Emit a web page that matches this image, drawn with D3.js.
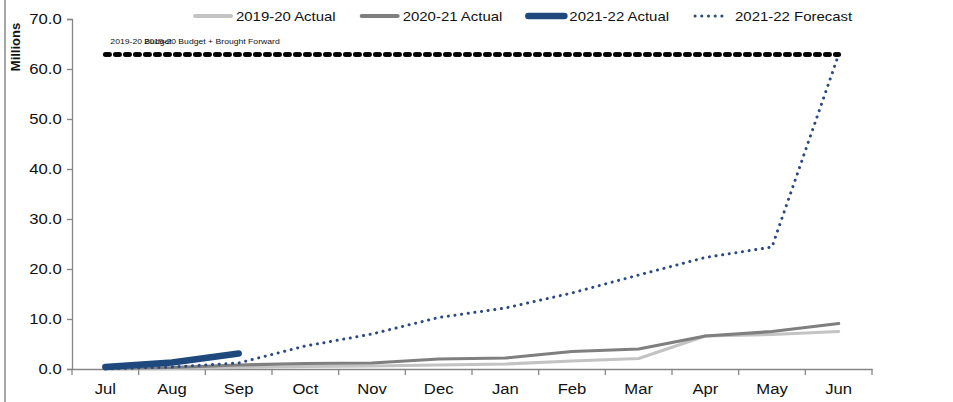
<!DOCTYPE html>
<html lang="en">
<head>
	<meta charset="utf-8">
	<title>Cumulative spend</title>
	<script src="https://d3js.org/d3.v7.min.js"></script>
	<style>
		body { margin: 0; background: #fff; }
		svg { display: block; font-family: "Liberation Sans", Arial, sans-serif; }
	</style>
</head>
<body>
	<div id="my_dataviz"></div>
	<script>
		// values in millions
		const months = ["Jul", "Aug", "Sep", "Oct", "Nov", "Dec", "Jan", "Feb", "Mar", "Apr", "May", "Jun"];
		const actual1920 = [0.0, 0.1, 0.3, 0.5, 0.6, 0.8, 1.0, 1.6, 2.1, 6.6, 6.9, 7.5];
		const actual2021 = [0.1, 0.3, 0.8, 1.1, 1.2, 2.0, 2.2, 3.5, 4.0, 6.6, 7.5, 9.1];
		const actual2122 = [0.4, 1.3, 3.1];
		const forecast2122 = [0.0, 0.4, 1.2, 4.6, 7.0, 10.3, 12.2, 15.2, 18.8, 22.3, 24.4, 62.9];
		const budget1920 = [62.9, 62.9, 62.9, 62.9, 62.9, 62.9, 62.9, 62.9, 62.9, 62.9, 62.9, 62.9];
		const budgetBF = [62.9, 62.9, 62.9, 62.9, 62.9, 62.9, 62.9, 62.9, 62.9, 62.9, 62.9, 62.9];
		const budgetLabels = ["2019-20 Budget", "2019-20 Budget + Brought Forward"];
		const legendLabels = ["2019-20 Actual", "2020-21 Actual", "2021-22 Actual", "2021-22 Forecast"];
		const yTicks = [0, 10, 20, 30, 40, 50, 60, 70];

		const width = 953, height = 402;
		const margin = { top: 19, right: 81, bottom: 33, left: 72 };
		const sx = 1.15; // the original text is a bit wide

		const svg = d3.select("#my_dataviz").append("svg")
			.attr("width", width).attr("height", height);

		// left edge of the frame
		svg.append("line")
			.attr("x1", 5).attr("x2", 5).attr("y1", 0).attr("y2", height)
			.attr("stroke", "#a6a6a6").attr("stroke-width", 2);

		const x = d3.scaleBand().domain(months).range([margin.left, width - margin.right]);
		const y = d3.scaleLinear().domain([0, 70]).range([height - margin.bottom, margin.top]);
		const cx = m => x(m) + x.bandwidth() / 2;

		// axes
		const yAxis = svg.append("g")
			.attr("transform", `translate(${margin.left},0)`)
			.call(d3.axisLeft(y).tickValues(yTicks).tickFormat(d3.format(".1f")).tickSize(5).tickPadding(4));
		const xAxis = svg.append("g")
			.attr("transform", `translate(0,${y(0)})`)
			.call(d3.axisBottom(x).tickSize(0).tickPadding(15));
		// tick marks sit on the band edges
		xAxis.selectAll(".edge")
			.data(months.map(m => x(m)).concat([width - margin.right]))
			.join("line")
			.attr("x1", d => d).attr("x2", d => d)
			.attr("y1", 0).attr("y2", 6);

		[yAxis, xAxis].forEach(g => {
			g.select(".domain").attr("stroke", "#868686").attr("stroke-width", 1.3);
			g.selectAll("line").attr("stroke", "#868686").attr("stroke-width", 1.3);
			g.selectAll("text")
				.attr("font-size", 14.5)
				.attr("font-family", "Liberation Sans, Arial, sans-serif")
				.attr("fill", "#111");
		});
		yAxis.selectAll(".tick text").attr("transform", `scale(${sx},1)`);
		xAxis.selectAll(".tick text").attr("transform", `scale(${sx},1)`);

		svg.append("text")
			.attr("transform", "translate(20,47) rotate(-90)")
			.attr("text-anchor", "middle")
			.attr("font-size", 13)
			.attr("font-weight", "bold")
			.attr("fill", "#111")
			.text("Millions");

		const line = d3.line()
			.x((d, i) => cx(months[i]))
			.y(d => y(d));

		// budget lines (two series on the same value)
		[budget1920, budgetBF].forEach(b => {
			svg.append("path")
				.attr("d", line(b))
				.attr("fill", "none")
				.attr("stroke", "#000")
				.attr("stroke-width", 4.5)
				.attr("stroke-linecap", "round")
				.attr("stroke-dasharray", "4.2,5.8");
		});
		svg.append("g")
			.selectAll("text")
			.data(budgetLabels)
			.join("text")
			.attr("transform", (d, i) => `translate(${cx(months[0]) + 5 + i * 34},${y(budget1920[0]) - 11}) scale(${sx},1)`)
			.attr("font-size", 7.5)
			.attr("fill", "#111")
			.text(d => d);

		const series = [
			{ values: actual1920, color: "#c3c3c3", width: 3.2, dash: null },
			{ values: actual2021, color: "#7f7f7f", width: 3.2, dash: null },
			{ values: forecast2122, color: "#2b4a80", width: 3, dash: "0.1,6.6" },
			{ values: actual2122, color: "#1f497d", width: 6.5, dash: null }
		];

		svg.append("g")
			.selectAll("path")
			.data(series)
			.join("path")
			.attr("d", d => line(d.values))
			.attr("fill", "none")
			.attr("stroke", d => d.color)
			.attr("stroke-width", d => d.width)
			.attr("stroke-linecap", "round")
			.attr("stroke-linejoin", "round")
			.attr("stroke-dasharray", d => d.dash);

		// legend
		const legendStyle = [series[0], series[1], series[3], series[2]];
		const legend = svg.append("g").attr("transform", "translate(193,16)");
		let lx = 0;
		legendLabels.forEach((lab, i) => {
			const s = legendStyle[i];
			const sw = i === 3 ? 35 : 40;
			legend.append("line")
				.attr("x1", lx + 2).attr("x2", lx + sw - 2)
				.attr("y1", 0).attr("y2", 0)
				.attr("stroke", s.color)
				.attr("stroke-width", i === 2 ? 6.5 : (i === 3 ? 3 : 4))
				.attr("stroke-linecap", "round")
				.attr("stroke-dasharray", s.dash);
			const tx = lx + sw + (i === 3 ? 7 : 3);
			const t = legend.append("text")
				.attr("transform", `translate(${tx},5) scale(${sx},1)`)
				.attr("font-size", 13)
				.attr("fill", "#111")
				.text(lab);
			lx = tx + t.node().getComputedTextLength() * sx + 24;
		});
	</script>
</body>
</html>
